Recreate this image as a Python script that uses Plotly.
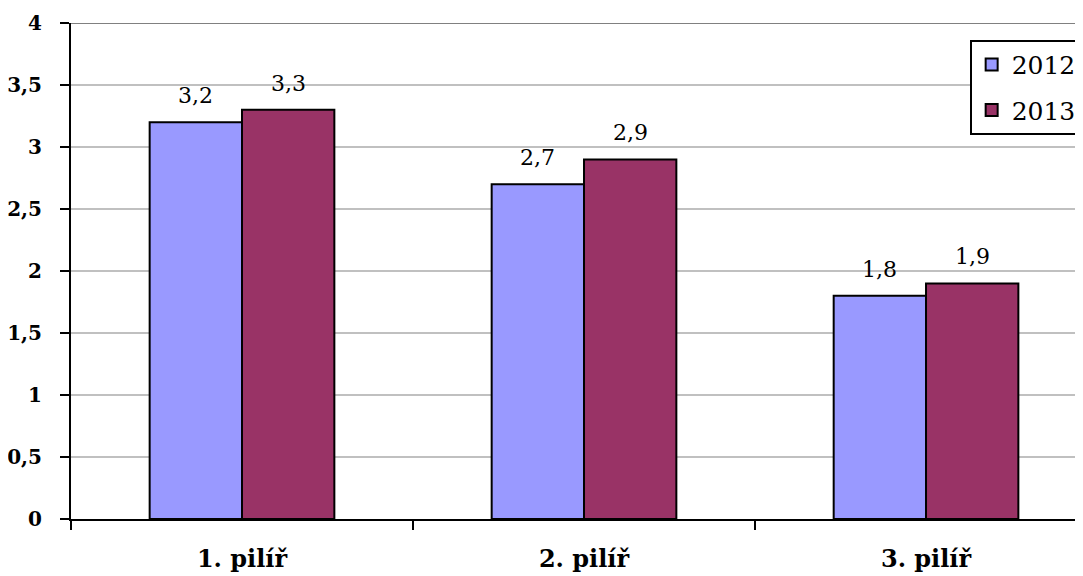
import plotly.graph_objects as go

categories = ["1. pilíř", "2. pilíř", "3. pilíř"]
values_2012 = [3.2, 2.7, 1.8]
values_2013 = [3.3, 2.9, 1.9]
series_names = ["2012", "2013"]
y_ticks = [0, 0.5, 1, 1.5, 2, 2.5, 3, 3.5, 4]

FONT = "DejaVu Serif"
W, H = 1075, 568
ML, MR, MT, MB = 63, 0, 15, 57
BARGAP = 0.46
XRANGE = [-0.5, 2.459]

fig = go.Figure()
series = [(series_names[0], values_2012, "#9999FF"), (series_names[1], values_2013, "#993366")]
for name, vals, col in series:
    fig.add_trace(go.Bar(
        x=categories, y=vals, name=name, legendgroup=name,
        marker=dict(color=col, line=dict(color="black", width=2)),
    ))

# data labels above each bar
cat_px = (W - ML - MR) / (XRANGE[1] - XRANGE[0])
bar_px = (1 - BARGAP) * cat_px / len(series)
for i, (name, vals, col) in enumerate(series):
    shift = (i - (len(series) - 1) / 2) * bar_px
    for c, v in zip(categories, vals):
        fig.add_annotation(
            x=c, y=v, xref="x", yref="y", text=f"{v:.1f}".replace(".", ","),
            showarrow=False, xanchor="center", yanchor="bottom",
            xshift=shift, yshift=12,
            font=dict(family=FONT, size=22, color="black"),
        )

fig.update_layout(
    width=W, height=H,
    margin=dict(l=ML, r=MR, t=MT, b=MB, autoexpand=False),
    paper_bgcolor="white", plot_bgcolor="white",
    separators=",.",
    barmode="group", bargap=BARGAP, bargroupgap=0,
    font=dict(family=FONT, color="black"),
    legend=dict(
        x=0.888, y=0.966, xanchor="left", yanchor="top",
        bordercolor="black", borderwidth=2, bgcolor="white",
        font=dict(family=FONT, size=25, color="black"),
        tracegroupgap=10, traceorder="grouped",
    ),
    showlegend=True,
)
fig.update_xaxes(
    type="category", range=XRANGE,
    showline=True, linecolor="black", linewidth=2,
    ticks="outside", tickson="boundaries", ticklen=9, tickwidth=2, tickcolor="black",
    tickfont=dict(family=FONT, size=24, color="black", weight="bold"),
    ticklabelstandoff=17, showgrid=False,
)
fig.update_yaxes(
    range=[0, 4], tickvals=y_ticks,
    showline=True, linecolor="black", linewidth=2,
    ticks="outside", ticklen=9, tickwidth=2, tickcolor="black",
    tickfont=dict(family=FONT, size=20, color="black", weight="bold"),
    ticklabelstandoff=14,
    showgrid=True, gridcolor="#C0C0C0", gridwidth=2, zeroline=False,
)
fig.add_shape(type="line", xref="paper", yref="y", x0=0, x1=1, y0=4, y1=4,
              line=dict(color="#808080", width=2), layer="below")

fig.write_html("out.html")
